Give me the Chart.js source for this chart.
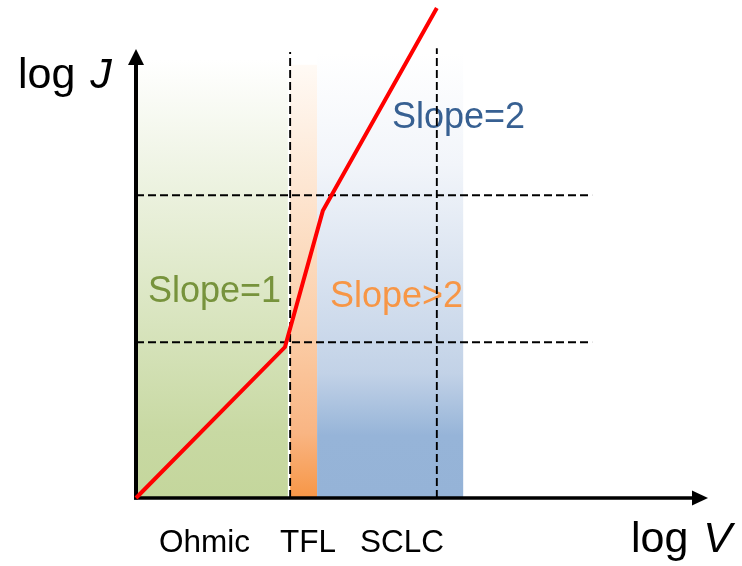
<!DOCTYPE html>
<html>
<head>
<meta charset="utf-8">
<script src="https://cdn.jsdelivr.net/npm/chart.js@4/dist/chart.umd.min.js"></script>
<style>
  html, body { margin: 0; padding: 0; background: #ffffff; }
  #wrap { width: 742px; height: 566px; position: relative; }
</style>
</head>
<body>
<div id="wrap"><canvas id="c"></canvas></div>
<script>
// J–V curve on log–log axes (arbitrary units)
const logV = [0, 2.60, 3.26, 5.25];
const logJ = [0, 3.08, 5.86, 10];

// conduction regimes along log V
const regionLabels = ['Ohmic', 'TFL', 'SCLC'];
const regionFrom = [0, 2.69, 3.16];
const regionTo = [2.65, 3.16, 5.71];
const regionTop = [8.94, 8.84, 9.08];
const slopeLabels = ['Slope=1', 'Slope>2', 'Slope=2'];

// dashed guide lines
const guideV = [2.69, 5.25];
const guideVTop = [9.10, 9.18];
const guideJ = [3.18, 6.18];
const guideJEnd = [7.96, 7.96];

const FONT = '"Liberation Sans", Arial, Helvetica, sans-serif';

const regionFills = [
  [[0, '#ffffff'], [0.85, '#c8d9a3'], [1, '#c4d69c']],
  [[0, '#fffaf5'], [0.6, '#fbcfaa'], [0.85, '#f9b583'], [1, '#f79646']],
  [[0, '#ffffff'], [0.25, '#f2f5fa'], [0.72, '#c2d2e7'], [0.86, '#96b4d8'], [1, '#95b3d7']]
];
const slopeColors = ['#77933c', '#f79646', '#376092'];

const backdrop = {
  id: 'backdrop',
  beforeDatasetsDraw(chart) {
    const { ctx, scales: { x, y } } = chart;
    ctx.save();
    // shaded regimes
    regionFrom.forEach((v0, i) => {
      const x0 = x.getPixelForValue(v0), x1 = x.getPixelForValue(regionTo[i]);
      const y0 = y.getPixelForValue(regionTop[i]), y1 = y.getPixelForValue(0);
      const g = ctx.createLinearGradient(0, y0, 0, y1);
      regionFills[i].forEach(s => g.addColorStop(s[0], s[1]));
      ctx.fillStyle = g;
      ctx.fillRect(x0, y0, x1 - x0, y1 - y0);
    });
    // slope annotations
    ctx.font = '36px ' + FONT;
    ctx.textBaseline = 'alphabetic';
    ctx.textAlign = 'left';
    const slopePos = [[148, 302], [330, 307], [392, 128]];
    slopeLabels.forEach((t, i) => {
      ctx.fillStyle = slopeColors[i];
      ctx.fillText(t, slopePos[i][0], slopePos[i][1]);
    });
    // axes with arrow heads
    const ox = x.getPixelForValue(0), oy = y.getPixelForValue(0);
    const top = 49, right = 708;
    ctx.strokeStyle = '#000'; ctx.fillStyle = '#000';
    ctx.lineWidth = 4;
    ctx.beginPath(); ctx.moveTo(ox, oy + 1.5); ctx.lineTo(ox, top + 12); ctx.stroke();
    ctx.lineWidth = 3.5;
    ctx.beginPath(); ctx.moveTo(ox - 2, oy); ctx.lineTo(right - 12, oy); ctx.stroke();
    ctx.beginPath(); ctx.moveTo(ox, top); ctx.lineTo(ox - 8, top + 16); ctx.lineTo(ox + 8, top + 16); ctx.closePath(); ctx.fill();
    ctx.beginPath(); ctx.moveTo(right, oy); ctx.lineTo(right - 16, oy - 7.5); ctx.lineTo(right - 16, oy + 7.5); ctx.closePath(); ctx.fill();
    ctx.restore();
  },
  afterDraw(chart) {
    const { ctx } = chart;
    ctx.save();
    ctx.fillStyle = '#000';
    ctx.textBaseline = 'alphabetic';
    ctx.textAlign = 'left';
    // regime names under the axis
    ctx.font = '31.5px ' + FONT;
    const namePos = [159, 280, 360];
    regionLabels.forEach((t, i) => ctx.fillText(t, namePos[i], 552));
    // axis titles
    const title = (x0, yb, plain, ital) => {
      ctx.font = '43px ' + FONT;
      ctx.fillText(plain, x0, yb);
      const w = ctx.measureText(plain).width;
      ctx.font = 'italic 43px ' + FONT;
      ctx.fillText(ital, x0 + w + 3, yb);
    };
    title(18, 88, 'log ', 'J');
    title(631, 552, 'log ', 'V');
    ctx.restore();
  }
};

const datasets = [{
  data: logV.map((v, i) => ({ x: v, y: logJ[i] })),
  borderColor: '#ff0000',
  borderWidth: 4,
  pointRadius: 0,
  showLine: true,
  tension: 0,
  clip: false,
  borderJoinStyle: 'miter'
}];
const dashed = (pts) => ({
  data: pts,
  borderColor: '#000000',
  borderWidth: 1.9,
  borderDash: [8, 4],
  pointRadius: 0,
  showLine: true,
  clip: false
});
guideJ.forEach((j, i) => datasets.push(dashed([{ x: 0, y: j }, { x: guideJEnd[i], y: j }])));
guideV.forEach((v, i) => datasets.push(dashed([{ x: v, y: 0 }, { x: v, y: guideVTop[i] }])));

new Chart(document.getElementById('c'), {
  type: 'scatter',
  data: { datasets },
  options: {
    responsive: true,
    maintainAspectRatio: false,
    animation: false,
    layout: { padding: { left: 136, right: 33, top: 8, bottom: 68 } },
    plugins: { legend: { display: false }, tooltip: { enabled: false } },
    scales: {
      x: { type: 'linear', min: 0, max: 10, display: false },
      y: { type: 'linear', min: 0, max: 10, display: false }
    }
  },
  plugins: [backdrop]
});
</script>
</body>
</html>
